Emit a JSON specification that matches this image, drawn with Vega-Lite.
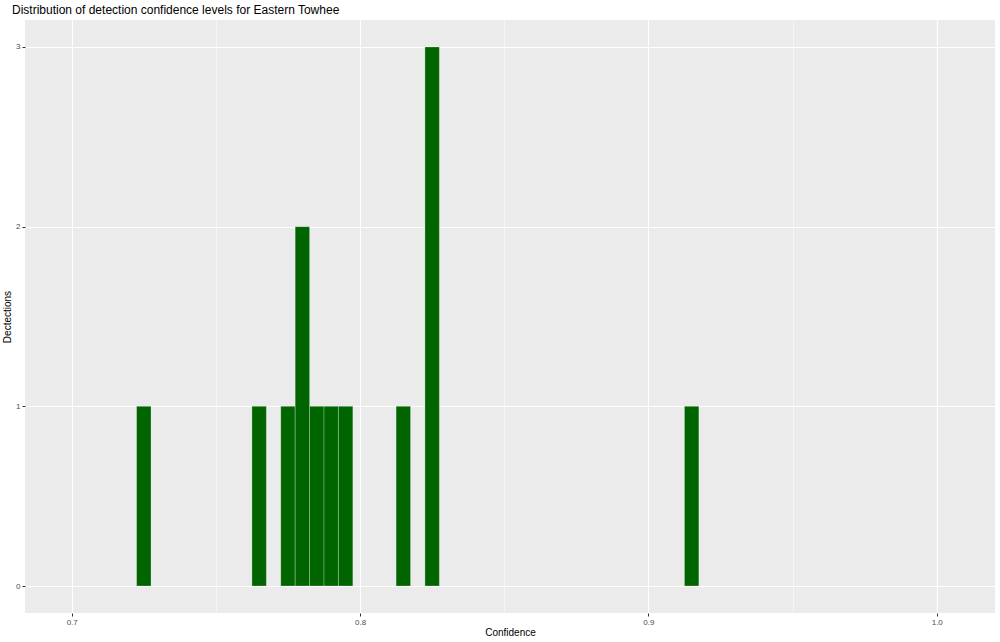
{
  "$schema": "https://vega.github.io/schema/vega-lite/v6.json",
  "autosize": {"type": "none"},
  "width": 970,
  "height": 593,
  "padding": {"left": 25, "top": 20, "right": 5, "bottom": 29},
  "background": "white",
  "title": {"text": "Distribution of detection confidence levels for Eastern Towhee", "anchor": "start", "frame": "group", "dx": -13, "dy": 6, "offset": 0, "baseline": "alphabetic", "font": "Liberation Sans", "fontSize": 12, "fontWeight": "normal", "color": "black"},
  "config": {"view": {"fill": "#EBEBEB", "stroke": null}},
  "data": {"values": [
    {"bin_start": 0.7225, "bin_end": 0.7275, "count": 1},
    {"bin_start": 0.7625, "bin_end": 0.7675, "count": 1},
    {"bin_start": 0.7725, "bin_end": 0.7775, "count": 1},
    {"bin_start": 0.7775, "bin_end": 0.7825, "count": 2},
    {"bin_start": 0.7825, "bin_end": 0.7875, "count": 1},
    {"bin_start": 0.7875, "bin_end": 0.7925, "count": 1},
    {"bin_start": 0.7925, "bin_end": 0.7975, "count": 1},
    {"bin_start": 0.8125, "bin_end": 0.8175, "count": 1},
    {"bin_start": 0.8225, "bin_end": 0.8275, "count": 3},
    {"bin_start": 0.9125, "bin_end": 0.9175, "count": 1}
  ]},
  "mark": {"type": "bar", "fill": "#006400", "stroke": "white", "strokeOpacity": 0.45, "strokeWidth": 0.6},
  "encoding": {
    "x": {"field": "bin_start", "type": "quantitative", "title": "Confidence",
      "scale": {"domain": [0.6838, 1.0202], "nice": false, "zero": false},
      "axis": {
        "values": [0.7, 0.75, 0.8, 0.85, 0.9, 0.95, 1.0],
        "format": ".1f",
        "labelExpr": "abs(datum.value*10 - round(datum.value*10)) < 0.01 ? datum.label : ''",
        "domain": false,
        "grid": true,
        "gridColor": "white",
        "gridWidth": {"condition": {"test": "abs(datum.value*10 - round(datum.value*10)) < 0.01", "value": 1.1}, "value": 0.5},
        "tickOpacity": {"condition": {"test": "abs(datum.value*10 - round(datum.value*10)) < 0.01", "value": 1}, "value": 0},
        "tickColor": "#333333",
        "tickSize": 3,
        "tickWidth": 1,
        "labelFont": "Liberation Sans",
        "labelFontSize": 8,
        "labelColor": "#4D4D4D",
        "labelPadding": 2,
        "titleFont": "Liberation Sans",
        "titleFontSize": 10,
        "titleFontWeight": "normal",
        "titleColor": "black",
        "titlePadding": 1
      }
    },
    "x2": {"field": "bin_end"},
    "y": {"field": "count", "type": "quantitative", "title": "Dectections",
      "scale": {"domain": [-0.15, 3.15], "nice": false, "zero": false},
      "axis": {
        "values": [0, 0.5, 1, 1.5, 2, 2.5, 3],
        "format": "d",
        "labelExpr": "datum.value == round(datum.value) ? datum.label : ''",
        "domain": false,
        "grid": true,
        "gridColor": "white",
        "gridWidth": {"condition": {"test": "datum.value == round(datum.value)", "value": 1.1}, "value": 0.5},
        "tickOpacity": {"condition": {"test": "datum.value == round(datum.value)", "value": 1}, "value": 0},
        "tickColor": "#333333",
        "tickSize": 3,
        "tickWidth": 1,
        "labelFont": "Liberation Sans",
        "labelFontSize": 8,
        "labelColor": "#4D4D4D",
        "labelPadding": 2,
        "titleFont": "Liberation Sans",
        "titleFontSize": 10,
        "titleFontWeight": "normal",
        "titleColor": "black",
        "titlePadding": 3
      }
    },
    "y2": {"datum": 0}
  }
}
